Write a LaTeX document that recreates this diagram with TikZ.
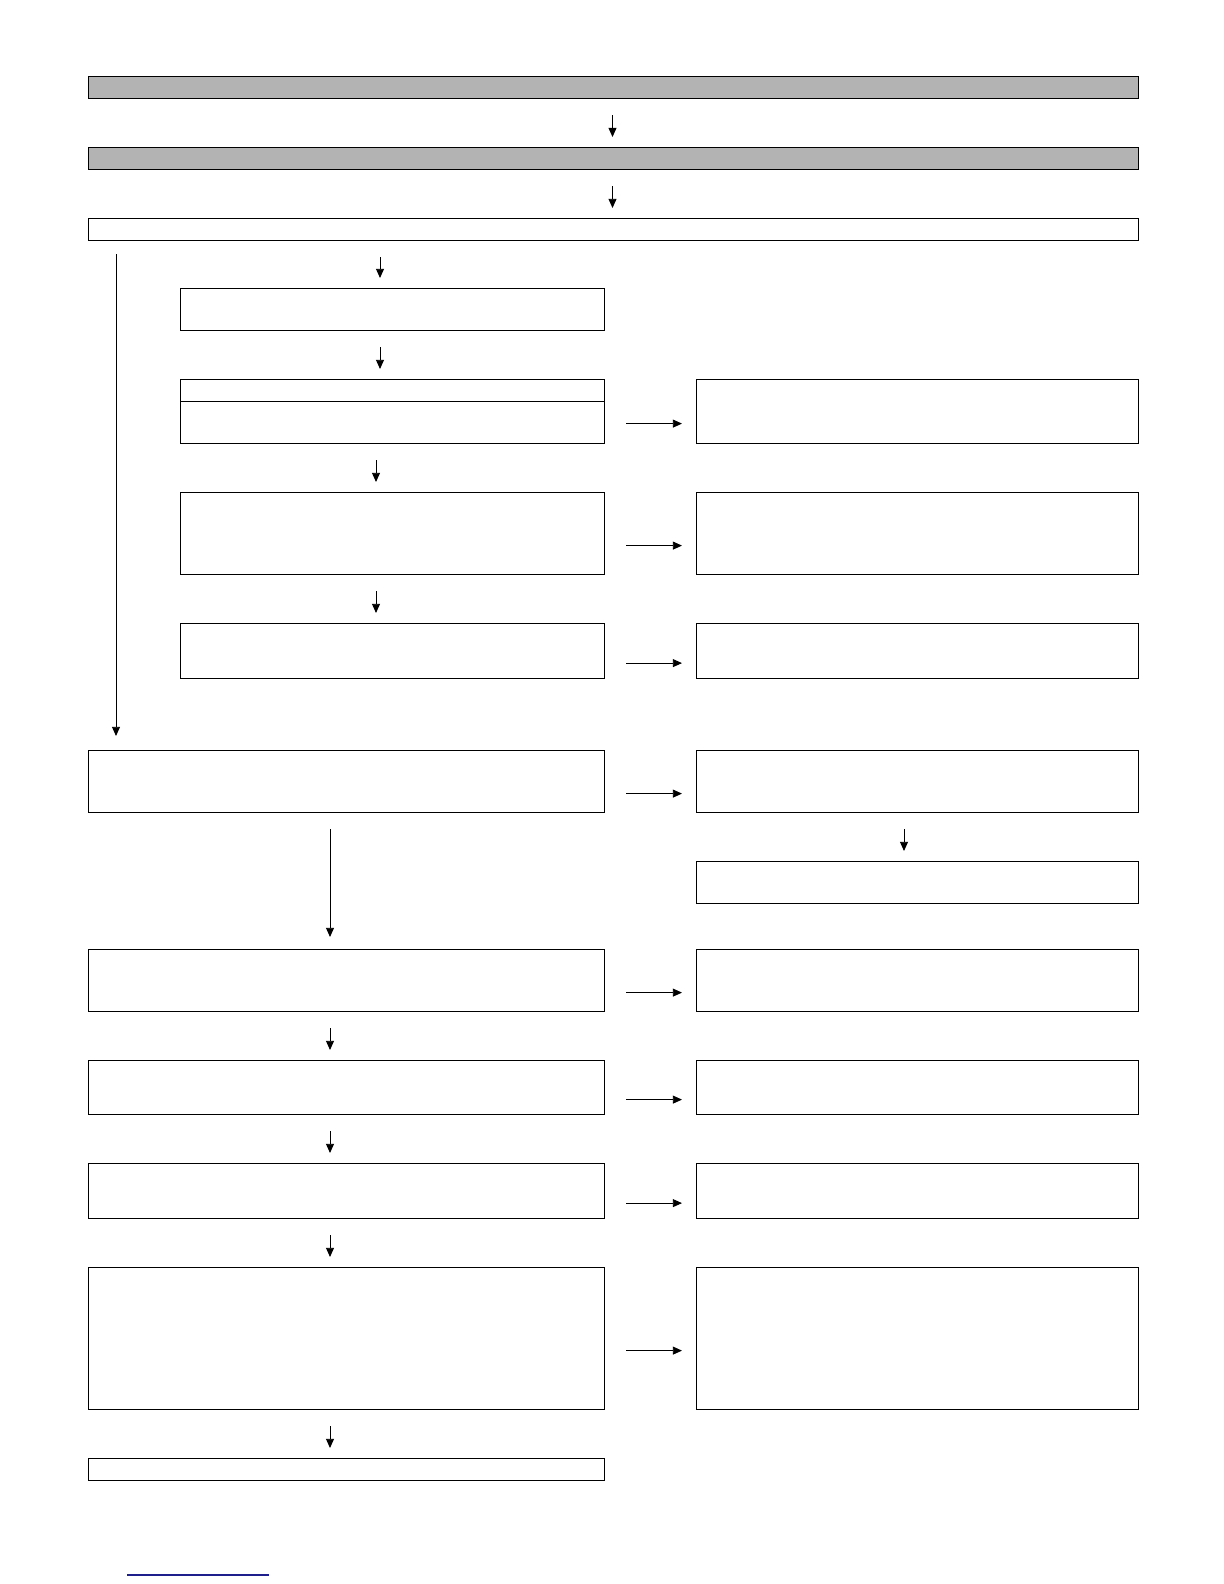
\documentclass[tikz,border=0pt]{standalone}
\usetikzlibrary{arrows.meta, positioning}
\definecolor{hdrgray}{RGB}{179,179,179}
\definecolor{linkblue}{RGB}{30,30,140}

\begin{document}
\begin{tikzpicture}[
    x=0.5pt, y=-0.5pt,
    >={Triangle[length=4.6pt, width=4pt]},
    box/.style={draw, line width=0.6pt, inner sep=0pt, anchor=north west},
    header/.style={box, fill=hdrgray},
    flow/.style={->, line width=0.45pt, shorten <=8pt, shorten >=5pt},
    side/.style={->, line width=0.45pt, shorten <=10.5pt, shorten >=7pt}
]
\useasboundingbox (0,0) rectangle (1224,1584);

% Header bars
\node[header, minimum width=525pt, minimum height=11pt] (hdrA) at (88,76) {};
\node[header, minimum width=525pt, minimum height=11pt] (hdrB) at (88,147) {};
\node[box, minimum width=525pt, minimum height=11pt] (scope) at (88,218) {};

% Inner branch (left column, indented)
\node[box, minimum width=212pt, minimum height=21pt] (stepA) at (180,288) {};
\node[box, minimum width=212pt, minimum height=32pt] (stepB) at (180,379) {};
\node[box, minimum width=212pt, minimum height=41pt] (stepC) at (180,492) {};
\node[box, minimum width=212pt, minimum height=27.5pt] (stepD) at (180,623) {};

% Main column
\node[box, minimum width=258pt, minimum height=31pt] (stepE) at (88,750) {};
\node[box, minimum width=258pt, minimum height=31pt] (stepG) at (88,949) {};
\node[box, minimum width=258pt, minimum height=27pt] (stepH) at (88,1060) {};
\node[box, minimum width=258pt, minimum height=27.5pt] (stepI) at (88,1163) {};
\node[box, minimum width=258pt, minimum height=71pt] (stepJ) at (88,1267) {};
\node[box, minimum width=258pt, minimum height=11pt] (stepK) at (88,1458) {};

% Right column
\node[box, minimum width=221pt, minimum height=32pt] (sideB) at (696,379) {};
\node[box, minimum width=221pt, minimum height=41pt] (sideC) at (696,492) {};
\node[box, minimum width=221pt, minimum height=27.5pt] (sideD) at (696,623) {};
\node[box, minimum width=221pt, minimum height=31pt] (sideE) at (696,750) {};
\node[box, minimum width=221pt, minimum height=21pt] (sideF) at (696,861) {};
\node[box, minimum width=221pt, minimum height=31pt] (sideG) at (696,949) {};
\node[box, minimum width=221pt, minimum height=27pt] (sideH) at (696,1060) {};
\node[box, minimum width=221pt, minimum height=27.5pt] (sideI) at (696,1163) {};
\node[box, minimum width=221pt, minimum height=71pt] (sideJ) at (696,1267) {};

% Divider in stepB
\draw[line width=0.5pt] ([yshift=-11pt]stepB.north west) -- ([yshift=-11pt]stepB.north east);

% Arrow columns
\coordinate (colM) at (612.5,0);
\coordinate (colA) at (380,0);
\coordinate (colB) at (376,0);
\coordinate (colL) at (116,0);
\coordinate (colR) at (904,0);
\coordinate (colW) at (330,0);

% Downward arrows
\draw[flow] (hdrA.south -| colM) -- (hdrB.north -| colM);
\draw[flow] (hdrB.south -| colM) -- (scope.north -| colM);
\draw[flow] (scope.south -| colA) -- (stepA.north -| colA);
\draw[flow] (stepA.south -| colA) -- (stepB.north -| colA);
\draw[flow] (stepB.south -| colB) -- (stepC.north -| colB);
\draw[flow] (stepC.south -| colB) -- (stepD.north -| colB);
\draw[flow, shorten <=6.5pt, shorten >=7pt] (scope.south -| colL) -- (stepE.north -| colL);
\draw[flow, shorten >=6pt] (stepE.south -| colW) -- (stepG.north -| colW);
\draw[flow] (stepG.south -| colW) -- (stepH.north -| colW);
\draw[flow] (stepH.south -| colW) -- (stepI.north -| colW);
\draw[flow] (stepI.south -| colW) -- (stepJ.north -| colW);
\draw[flow] (stepJ.south -| colW) -- (stepK.north -| colW);
\draw[flow] (sideE.south -| colR) -- (sideF.north -| colR);

% Sideways arrows
\foreach \s in {B,C,D,E,G,H,I,J}
    \draw[side] ([yshift=-6pt]step\s.east) -- ([yshift=-6pt]step\s.east -| side\s.west);

% Link underline
\draw[linkblue, line width=0.75pt] (127,1575) -- (269,1575);

\end{tikzpicture}
\end{document}
